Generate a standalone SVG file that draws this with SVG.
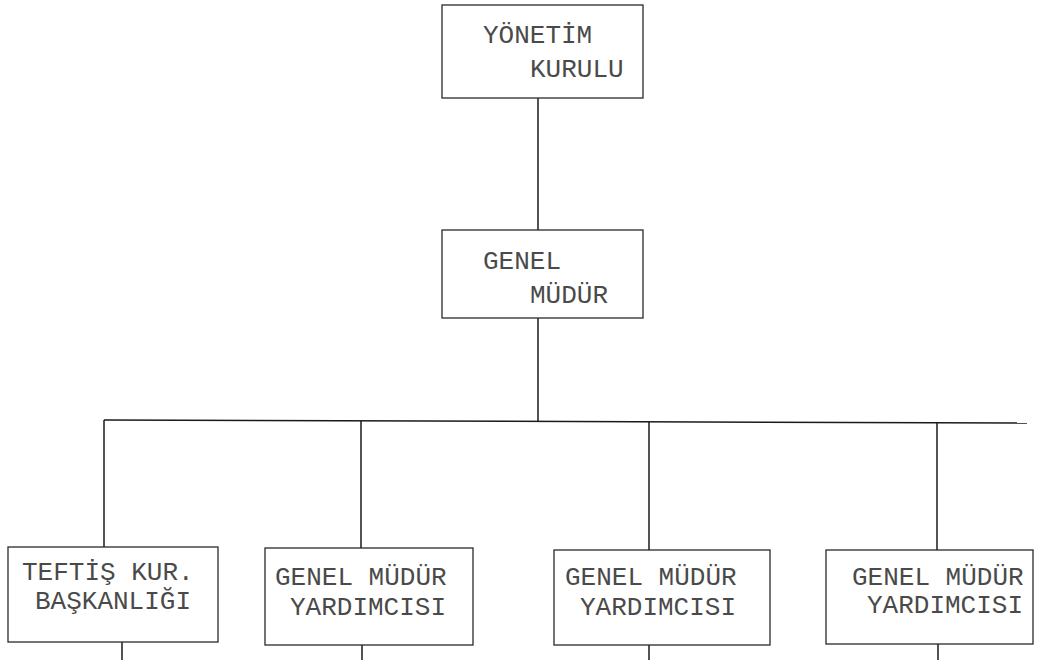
<svg xmlns="http://www.w3.org/2000/svg" width="1037" height="660" viewBox="0 0 1037 660">
<style>
.box{fill:#fff;stroke:#2a2a2a;stroke-width:1.3}
.ln{fill:none;stroke:#1a1a1a;stroke-width:1.5}
.t{font-family:"Liberation Mono","DejaVu Sans Mono",monospace;font-size:26px;fill:#4a4a4a}
</style>
<rect width="1037" height="660" fill="#fff"/>
<g id="connectors">
<line class="ln" x1="538" y1="98" x2="538" y2="230"/>
<line class="ln" x1="538" y1="318" x2="538" y2="421"/>
<line class="ln" x1="104" y1="420" x2="1027" y2="423"/>
<line class="ln" x1="104" y1="420" x2="104" y2="547"/>
<line class="ln" x1="361" y1="421" x2="361" y2="548"/>
<line class="ln" x1="649" y1="422" x2="649" y2="550"/>
<line class="ln" x1="937" y1="423" x2="937" y2="550"/>
<line class="ln" x1="122" y1="642" x2="122" y2="660"/>
<line class="ln" x1="362" y1="645" x2="362" y2="660"/>
<line class="ln" x1="649" y1="645" x2="649" y2="660"/>
<line class="ln" x1="938" y1="644" x2="938" y2="660"/>
</g>
<g id="yonetim">
<rect class="box" x="442" y="5" width="201" height="93"/>
<text class="t" x="483" y="43">YÖNETİM</text>
<text class="t" x="530" y="77">KURULU</text>
</g>
<g id="genel-mudur">
<rect class="box" x="442" y="230" width="201" height="88"/>
<text class="t" x="483" y="269">GENEL</text>
<text class="t" x="530" y="303">MÜDÜR</text>
</g>
<g id="teftis">
<rect class="box" x="8" y="547" width="210" height="95"/>
<text class="t" x="22" y="580">TEFTİŞ KUR.</text>
<text class="t" x="35" y="609">BAŞKANLIĞI</text>
</g>
<g id="gmy1">
<rect class="box" x="265" y="548" width="208" height="97"/>
<text class="t" x="275" y="585">GENEL MÜDÜR</text>
<text class="t" x="290" y="615">YARDIMCISI</text>
</g>
<g id="gmy2">
<rect class="box" x="554" y="550" width="216" height="95"/>
<text class="t" x="565" y="585">GENEL MÜDÜR</text>
<text class="t" x="580" y="615">YARDIMCISI</text>
</g>
<g id="gmy3">
<rect class="box" x="826" y="550" width="207" height="94"/>
<text class="t" x="852" y="585">GENEL MÜDÜR</text>
<text class="t" x="867" y="613">YARDIMCISI</text>
</g>
</svg>
